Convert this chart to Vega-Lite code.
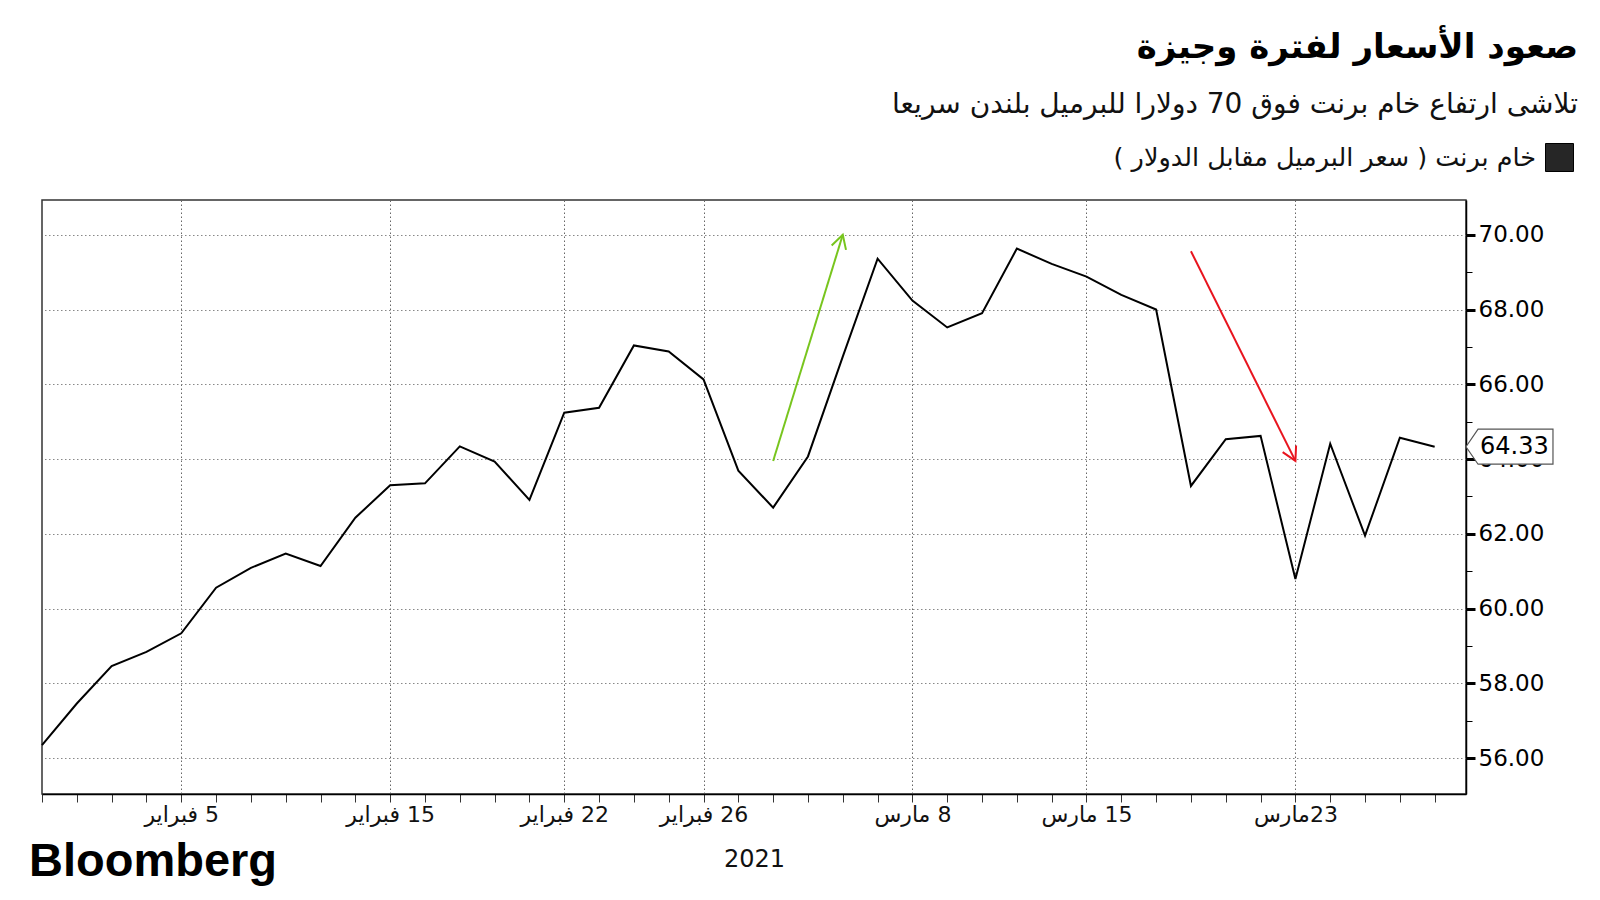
{
  "$schema": "https://vega.github.io/schema/vega-lite/v6.json",
  "width": 1424,
  "height": 594,
  "autosize": {"type": "none"},
  "padding": {"left": 42, "top": 200, "right": 134, "bottom": 106},
  "background": "white",
  "config": {
    "view": {"stroke": "#333333", "strokeWidth": 1.5},
    "font": "DejaVu Sans"
  },
  "title": {
    "text": "صعود الأسعار لفترة وجيزة",
    "subtitle": "تلاشى ارتفاع خام برنت فوق 70 دولارا للبرميل بلندن سريعا",
    "anchor": "end",
    "frame": "group",
    "dx": 112,
    "offset": 24,
    "font": "DejaVu Sans",
    "fontSize": 34,
    "fontWeight": "bold",
    "color": "#000000",
    "subtitleFont": "DejaVu Sans",
    "subtitleFontSize": 28,
    "subtitleColor": "#111111",
    "subtitlePadding": 26
  },
  "datasets": {
    "brent": [
      {"date": "2021-02-01", "price": 56.35},
      {"date": "2021-02-02", "price": 57.46},
      {"date": "2021-02-03", "price": 58.46},
      {"date": "2021-02-04", "price": 58.84},
      {"date": "2021-02-05", "price": 59.34},
      {"date": "2021-02-08", "price": 60.56},
      {"date": "2021-02-09", "price": 61.09},
      {"date": "2021-02-10", "price": 61.47},
      {"date": "2021-02-11", "price": 61.14},
      {"date": "2021-02-12", "price": 62.43},
      {"date": "2021-02-15", "price": 63.30},
      {"date": "2021-02-16", "price": 63.35},
      {"date": "2021-02-17", "price": 64.34},
      {"date": "2021-02-18", "price": 63.93},
      {"date": "2021-02-19", "price": 62.91},
      {"date": "2021-02-22", "price": 65.24},
      {"date": "2021-02-23", "price": 65.37},
      {"date": "2021-02-24", "price": 67.04},
      {"date": "2021-02-25", "price": 66.88},
      {"date": "2021-02-26", "price": 66.13},
      {"date": "2021-03-01", "price": 63.69},
      {"date": "2021-03-02", "price": 62.70},
      {"date": "2021-03-03", "price": 64.07},
      {"date": "2021-03-04", "price": 66.74},
      {"date": "2021-03-05", "price": 69.36},
      {"date": "2021-03-08", "price": 68.24},
      {"date": "2021-03-09", "price": 67.52},
      {"date": "2021-03-10", "price": 67.90},
      {"date": "2021-03-11", "price": 69.63},
      {"date": "2021-03-12", "price": 69.22},
      {"date": "2021-03-15", "price": 68.88},
      {"date": "2021-03-16", "price": 68.39},
      {"date": "2021-03-17", "price": 68.00},
      {"date": "2021-03-18", "price": 63.28},
      {"date": "2021-03-19", "price": 64.53},
      {"date": "2021-03-22", "price": 64.62},
      {"date": "2021-03-23", "price": 60.79},
      {"date": "2021-03-24", "price": 64.41},
      {"date": "2021-03-25", "price": 61.95},
      {"date": "2021-03-26", "price": 64.57},
      {"date": "2021-03-29", "price": 64.33}
    ],
    "arrows": [
      {"direction": "up", "from_date": "2021-03-02", "from_price": 63.95, "to_date": "2021-03-04", "to_price": 70.0},
      {"direction": "down", "from_date": "2021-03-18", "from_price": 69.56, "to_date": "2021-03-23", "to_price": 63.95}
    ]
  },
  "layer": [
    {
      "data": {"name": "brent"},
      "mark": {"type": "line", "strokeWidth": 2, "strokeJoin": "miter"},
      "encoding": {
        "x": {
          "field": "date",
          "type": "ordinal",
          "sort": "ascending",
          "scale": {"type": "point", "padding": 0.45, "align": 0},
          "axis": {
            "title": "2021",
            "titleFont": "DejaVu Sans",
            "titleFontSize": 24,
            "titleFontWeight": "normal",
            "titleColor": "#111111",
            "titlePadding": 22,
            "labelAngle": 0,
            "labelOverlap": false,
            "labelFont": "DejaVu Sans",
            "labelFontSize": 22,
            "labelColor": "#111111",
            "labelPadding": 2,
            "labelExpr": "indexof(['2021-02-05','2021-02-15','2021-02-22','2021-02-26','2021-03-08','2021-03-15','2021-03-23'], datum.value) < 0 ? '' : '\u200f' + toNumber(slice(datum.value, 8)) + (datum.value == '2021-03-23' ? '' : ' ') + (slice(datum.value, 5, 7) == '02' ? 'فبراير' : 'مارس')",
            "tickSize": 8,
            "tickColor": "#333333",
            "tickWidth": 1,
            "domainColor": "#000000",
            "domainWidth": 1.5,
            "grid": true,
            "gridColor": "#666666",
            "gridDash": [1.5, 2.5],
            "gridWidth": 1,
            "gridOpacity": {
              "condition": {"test": "indexof(['2021-02-05','2021-02-15','2021-02-22','2021-02-26','2021-03-08','2021-03-15','2021-03-23'], datum.value) >= 0", "value": 1},
              "value": 0
            }
          }
        },
        "y": {
          "field": "price",
          "type": "quantitative",
          "scale": {"domain": [55.04, 70.93], "nice": false, "zero": false},
          "axis": {
            "orient": "right",
            "title": null,
            "values": [56, 57, 58, 59, 60, 61, 62, 63, 64, 65, 66, 67, 68, 69, 70],
            "labelExpr": "datum.value % 2 == 0 ? format(datum.value, '.2f') : ''",
            "labelOverlap": false,
            "labelFlush": false,
            "labelFont": "DejaVu Sans",
            "labelFontSize": 23,
            "labelColor": "#000000",
            "labelPadding": 3,
            "tickColor": "#000000",
            "tickSize": {"condition": {"test": "datum.value % 2 == 0", "value": 9}, "value": 6},
            "tickWidth": {"condition": {"test": "datum.value % 2 == 0", "value": 3}, "value": 1},
            "domainColor": "#000000",
            "domainWidth": 1.5,
            "grid": true,
            "gridColor": "#888888",
            "gridDash": [1.5, 2.5],
            "gridWidth": 1,
            "gridOpacity": {"condition": {"test": "datum.value % 2 == 0", "value": 1}, "value": 0}
          }
        },
        "color": {
          "datum": "خام برنت ( سعر البرميل مقابل الدولار )",
          "type": "nominal",
          "scale": {"range": ["#000000"]},
          "legend": {
            "orient": "none",
            "legendX": 1503,
            "legendY": -57,
            "title": null,
            "padding": 0,
            "symbolType": "square",
            "symbolSize": 784,
            "symbolFillColor": "#262626",
            "symbolStrokeColor": "#262626",
            "symbolStrokeWidth": 1,
            "labelAlign": "right",
            "labelOffset": -38,
            "labelFont": "DejaVu Sans",
            "labelFontSize": 25.5,
            "labelColor": "#111111",
            "labelLimit": 0,
            "labelExpr": "'\u200f' + datum.label + '\u200f'"
          }
        }
      }
    },
    {
      "data": {"name": "arrows"},
      "transform": [{"filter": "datum.direction == 'up'"}],
      "mark": {"type": "rule", "strokeWidth": 2, "color": "#78c51e"},
      "encoding": {
        "x": {"field": "from_date", "type": "ordinal"},
        "x2": {"field": "to_date"},
        "y": {"field": "from_price", "type": "quantitative"},
        "y2": {"field": "to_price"}
      }
    },
    {
      "data": {"name": "arrows"},
      "transform": [{"filter": "datum.direction == 'down'"}],
      "mark": {"type": "rule", "strokeWidth": 2, "color": "#e8141e"},
      "encoding": {
        "x": {"field": "from_date", "type": "ordinal"},
        "x2": {"field": "to_date"},
        "y": {"field": "from_price", "type": "quantitative"},
        "y2": {"field": "to_price"}
      }
    },
    {
      "data": {"name": "arrows"},
      "transform": [{"filter": "datum.direction == 'up'"}],
      "mark": {"type": "point", "shape": "M-0.5,0.9L0,0L0.5,0.9", "angle": 17, "size": 900, "filled": false, "stroke": "#78c51e", "strokeWidth": 2, "opacity": 1},
      "encoding": {
        "x": {"field": "to_date", "type": "ordinal"},
        "y": {"field": "to_price", "type": "quantitative"}
      }
    },
    {
      "data": {"name": "arrows"},
      "transform": [{"filter": "datum.direction == 'down'"}],
      "mark": {"type": "point", "shape": "M-0.5,0.9L0,0L0.5,0.9", "angle": 153.5, "size": 900, "filled": false, "stroke": "#e8141e", "strokeWidth": 2, "opacity": 1},
      "encoding": {
        "x": {"field": "to_date", "type": "ordinal"},
        "y": {"field": "to_price", "type": "quantitative"}
      }
    },
    {
      "data": {"name": "brent"},
      "transform": [{"filter": "datum.date == '2021-03-29'"}],
      "mark": {"type": "point", "shape": "M0,0L0.69,-1L4.97,-1L4.97,1L0.69,1Z", "size": 1225, "filled": true, "fill": "#ffffff", "stroke": "#555555", "strokeWidth": 1.2, "opacity": 1},
      "encoding": {
        "x": {"value": "width"},
        "y": {"field": "price", "type": "quantitative"}
      }
    },
    {
      "data": {"name": "brent"},
      "transform": [{"filter": "datum.date == '2021-03-29'"}],
      "mark": {"type": "text", "align": "left", "baseline": "middle", "dx": 14, "font": "DejaVu Sans", "fontSize": 24, "color": "#000000"},
      "encoding": {
        "x": {"value": "width"},
        "y": {"field": "price", "type": "quantitative"},
        "text": {"field": "price", "type": "quantitative", "format": ".2f"}
      }
    },
    {
      "data": {"values": [{"credit": "Bloomberg"}]},
      "mark": {"type": "text", "align": "left", "baseline": "alphabetic", "dx": -13, "dy": 82, "font": "Liberation Sans", "fontWeight": "bold", "fontSize": 47, "color": "#000000"},
      "encoding": {
        "x": {"value": 0},
        "y": {"value": "height"},
        "text": {"field": "credit", "type": "nominal"}
      }
    }
  ]
}
